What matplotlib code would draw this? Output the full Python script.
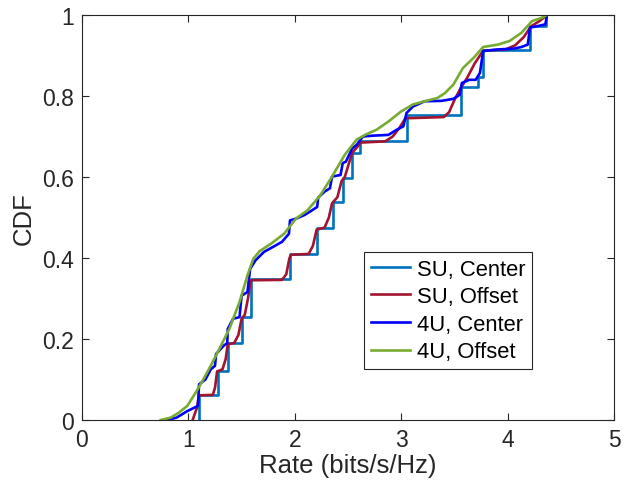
import matplotlib
matplotlib.use("Agg")
import matplotlib.pyplot as plt

# ---- data ----
su_center_rate = [1.10, 1.10, 1.275, 1.37, 1.50, 1.585, 1.955, 2.21, 2.355, 2.45, 2.54, 2.615,
                  3.05, 3.56, 3.72, 3.77, 4.215, 4.36]
su_center_cdf = [0.0, 0.062, 0.122, 0.190, 0.255, 0.349, 0.409, 0.473, 0.538, 0.598, 0.660, 0.689,
                 0.753, 0.821, 0.848, 0.914, 0.973, 1.0]

su_offset_rate = [1.04, 1.08, 1.10, 1.23, 1.25, 1.27, 1.32, 1.35, 1.37, 1.43, 1.47, 1.50, 1.53,
                  1.56, 1.585, 1.88, 1.92, 1.95, 1.965, 2.13, 2.17, 2.205, 2.28, 2.32, 2.35, 2.40,
                  2.44, 2.47, 2.51, 2.54, 2.58, 2.62, 2.85, 2.92, 2.98, 3.04, 3.40, 3.45, 3.50,
                  3.56, 3.62, 3.69, 3.77, 3.98, 4.07, 4.15, 4.22, 4.30, 4.37]
su_offset_cdf = [0.0, 0.03, 0.061, 0.062, 0.08, 0.12, 0.125, 0.15, 0.187, 0.19, 0.21, 0.25, 0.26,
                 0.30, 0.345, 0.346, 0.36, 0.40, 0.408, 0.410, 0.43, 0.47, 0.475, 0.50, 0.535, 0.55,
                 0.59, 0.60, 0.635, 0.66, 0.672, 0.685, 0.688, 0.70, 0.72, 0.745, 0.748, 0.76, 0.79,
                 0.82, 0.845, 0.88, 0.912, 0.915, 0.925, 0.945, 0.972, 0.985, 1.0]

u4_center_rate = [0.80, 0.89, 0.99, 1.06, 1.09, 1.10, 1.16, 1.21, 1.25, 1.26, 1.33, 1.365, 1.37,
                  1.42, 1.48, 1.50, 1.555, 1.58, 1.63, 1.71, 1.82, 1.88, 1.945, 1.955, 2.01, 2.09,
                  2.14, 2.21, 2.22, 2.28, 2.33, 2.35, 2.43, 2.45, 2.48, 2.54, 2.58, 2.64, 2.73,
                  2.88, 2.96, 3.02, 3.05, 3.11, 3.22, 3.38, 3.49, 3.55, 3.57, 3.64, 3.70, 3.74,
                  3.77, 3.91, 4.06, 4.13, 4.19, 4.21, 4.29, 4.355, 4.37]
u4_center_cdf = [0.0, 0.006, 0.022, 0.031, 0.035, 0.088, 0.100, 0.125, 0.134, 0.163, 0.183, 0.190,
                 0.225, 0.250, 0.254, 0.307, 0.316, 0.373, 0.394, 0.415, 0.431, 0.440, 0.460, 0.493,
                 0.497, 0.506, 0.514, 0.526, 0.549, 0.564, 0.572, 0.601, 0.605, 0.634, 0.638, 0.671,
                 0.679, 0.700, 0.702, 0.704, 0.717, 0.725, 0.758, 0.774, 0.787, 0.788, 0.793, 0.803,
                 0.832, 0.840, 0.840, 0.857, 0.911, 0.915, 0.917, 0.921, 0.927, 0.969, 0.973, 0.977,
                 1.0]

u4_offset_rate = [0.74, 0.835, 0.91, 0.99, 1.06, 1.14, 1.21, 1.29, 1.385, 1.48, 1.555, 1.61, 1.67,
                  1.78, 1.90, 2.01, 2.12, 2.24, 2.35, 2.47, 2.58, 2.66, 2.77, 2.88, 3.00, 3.11,
                  3.22, 3.34, 3.41, 3.49, 3.58, 3.68, 3.77, 3.91, 4.02, 4.13, 4.23, 4.31, 4.37]
u4_offset_cdf = [0.0, 0.006, 0.018, 0.035, 0.064, 0.100, 0.134, 0.175, 0.225, 0.291, 0.357, 0.398,
                 0.417, 0.436, 0.460, 0.497, 0.518, 0.555, 0.601, 0.655, 0.692, 0.704, 0.717, 0.737,
                 0.762, 0.779, 0.787, 0.795, 0.807, 0.828, 0.869, 0.894, 0.921, 0.927, 0.936, 0.956,
                 0.985, 0.992, 1.0]

labels = ["SU, Center", "SU, Offset", "4U, Center", "4U, Offset"]
colors = ["#0072BD", "#A2142F", "#0000FF", "#77AC30"]
x_ticks = [0, 1, 2, 3, 4, 5]
y_ticks = [0, 0.2, 0.4, 0.6, 0.8, 1]
y_tick_labels = ["0", "0.2", "0.4", "0.6", "0.8", "1"]

plt.rcParams['font.family'] = ['Liberation Sans', 'DejaVu Sans']

fig = plt.figure(figsize=(6.29, 4.89), dpi=100)
ax = fig.add_axes([82 / 629, 1 - 421 / 489, 532 / 629, 405 / 489])

lw = 1.9
ax.plot(su_center_rate, su_center_cdf, drawstyle='steps-post', color=colors[0], lw=lw, label=labels[0])
ax.plot(su_offset_rate, su_offset_cdf, color=colors[1], lw=lw, label=labels[1])
ax.plot(u4_center_rate, u4_center_cdf, color=colors[2], lw=lw, label=labels[2])
ax.plot(u4_offset_rate, u4_offset_cdf, color=colors[3], lw=lw, label=labels[3])

ax.set_xlim(0, 5)
ax.set_ylim(0, 1)
ax.set_xticks(x_ticks)
ax.set_yticks(y_ticks)
ax.set_yticklabels(y_tick_labels)

axcol = "#262626"
for s in ax.spines.values():
    s.set_color(axcol)
    s.set_linewidth(0.8)
ax.tick_params(direction='in', top=True, right=True, length=5, width=0.8,
               colors=axcol, labelsize=16.5, pad=6)
ax.set_xlabel("Rate (bits/s/Hz)", fontsize=18.5, color=axcol, labelpad=1)
ax.set_ylabel("CDF", fontsize=18.5, color=axcol, labelpad=4)

leg = ax.legend(loc='upper left', bbox_to_anchor=(0.530, 0.415), borderaxespad=0,
                fontsize=15.8, frameon=True, fancybox=False, framealpha=1,
                handlelength=1.8, handletextpad=0.3, labelspacing=0.3, borderpad=0.3)
leg.get_frame().set_edgecolor(axcol)
leg.get_frame().set_linewidth(0.8)
for t in leg.get_texts():
    t.set_color("black")

fig.savefig("out.png", dpi=100, facecolor="white")
